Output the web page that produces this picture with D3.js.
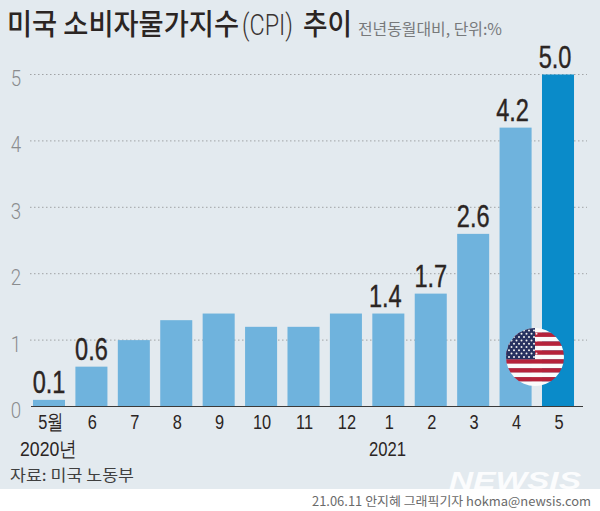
<!DOCTYPE html>
<html>
<head>
<meta charset="utf-8">
<script src="https://cdn.jsdelivr.net/npm/d3@7/dist/d3.min.js"></script>
<style>
  html, body { margin: 0; padding: 0; background: #fff; }
  svg { display: block; }
  .kr { font-family: "Noto Sans CJK KR", sans-serif; }
  .num { font-family: "Liberation Sans", sans-serif; }
  .thin { font-family: Roboto, "Liberation Sans", sans-serif; font-weight: 300; }
</style>
</head>
<body>
<div id="chart"></div>
<script>
var months = ["5월", "6", "7", "8", "9", "10", "11", "12", "1", "2", "3", "4", "5"];
var values = [0.1, 0.6, 1.0, 1.3, 1.4, 1.2, 1.2, 1.4, 1.4, 1.7, 2.6, 4.2, 5.0];
// only these months carry a number on top of the bar
var labelled = [0, 1, 8, 9, 10, 11, 12];
// these numbers sit a little left of their bar in the original
var nudged = [8, 11, 12];
var yTicks = [0, 1, 2, 3, 4, 5];
var stripes = d3.range(13);
var starRows = d3.range(9);

var width = 600, height = 511;

var svg = d3.select("#chart").append("svg")
    .attr("width", width)
    .attr("height", height);

// panel, the white strip at the bottom stays for the credit line
svg.append("rect")
    .attr("width", width)
    .attr("height", 489)
    .attr("fill", "#e3eaef");

var x = d3.scaleBand()
    .domain(d3.range(months.length))
    .range([24.5, 582.5])
    .paddingInner(0.245)
    .paddingOuter(0.2);

var y = d3.scaleLinear()
    .domain([0, 5])
    .range([406.5, 74.5]);

// dotted gridlines
svg.selectAll(".grid")
    .data(yTicks.slice(1))
    .enter().append("line")
    .attr("class", "grid")
    .attr("x1", 30)
    .attr("x2", 587)
    .attr("y1", function (d) { return y(d); })
    .attr("y2", function (d) { return y(d); })
    .attr("stroke", "#a0a3a5")
    .attr("stroke-width", 1)
    .attr("stroke-dasharray", "1.5 2.5");

svg.selectAll(".ytick")
    .data(yTicks)
    .enter().append("text")
    .attr("class", "ytick thin")
    .attr("transform", function (d) { return "translate(16," + (y(d) + 11.5) + ") scale(0.85,1)"; })
    .attr("text-anchor", "middle")
    .attr("font-size", 22)
    .attr("fill", "#8a8c8e")
    .text(function (d) { return d; });

svg.selectAll(".bar")
    .data(values)
    .enter().append("rect")
    .attr("class", "bar")
    .attr("x", function (d, i) { return x(i); })
    .attr("y", function (d) { return y(d); })
    .attr("width", x.bandwidth())
    .attr("height", function (d) { return y(0) - y(d); })
    .attr("fill", function (d, i) { return i == months.length - 1 ? "#0a8bc9" : "#6fb3dd"; });

// baseline
svg.append("line")
    .attr("x1", 31)
    .attr("x2", 583)
    .attr("y1", y(0))
    .attr("y2", y(0))
    .attr("stroke", "#3a3a3a")
    .attr("stroke-width", 1);

// numbers on the bars, squeezed because no condensed face is installed
svg.selectAll(".val")
    .data(labelled)
    .enter().append("text")
    .attr("class", "val num")
    .attr("transform", function (d) {
        var shift = nudged.indexOf(d) >= 0 ? -3 : 0;
        return "translate(" + (x(d) + x.bandwidth() / 2 + shift) + "," + (y(values[d]) - 6.5) + ") scale(0.76,1)";
    })
    .attr("text-anchor", "middle")
    .attr("font-size", 31)
    .attr("fill", "#2b2523")
    .attr("stroke", "#2b2523")
    .attr("stroke-width", 0.4)
    .text(function (d) { return values[d].toFixed(1); });

// month labels
svg.selectAll(".month")
    .data(months)
    .enter().append("text")
    .attr("class", "month num")
    .attr("transform", function (d, i) {
        return "translate(" + (x(i) + x.bandwidth() / 2 + (i == 0 ? 2 : 1)) + ",429) scale(0.78,1)";
    })
    .attr("text-anchor", "middle")
    .attr("font-size", 21)
    .attr("fill", "#2b2523")
    .text(function (d) { return d; });

// fixed text, fitted to the widths in the reference
function label(str, xpos, ypos, size, color, len, cls, weight) {
    var t = svg.append("text")
        .attr("class", cls)
        .attr("x", xpos)
        .attr("y", ypos)
        .attr("font-size", size)
        .attr("fill", color)
        .text(str);
    if (len) t.attr("textLength", len).attr("lengthAdjust", "spacingAndGlyphs");
    if (weight) t.attr("font-weight", weight);
    return t;
}

label("미국 소비자물가지수", 7, 35, 29, "#2b2523", 232, "kr", 500);
label("(CPI)", 242, 35, 29, "#3a3533", 51, "thin");
label("추이", 303, 35, 29, "#2b2523", 49, "kr", 500);
label("전년동월대비, 단위:%", 358, 35, 15.5, "#77797b", 144, "kr", 400);
label("2020년", 20, 455.5, 21, "#2b2523", 57, "num");
label("2021", 369, 455.5, 21, "#2b2523", 37, "num");
label("자료: 미국 노동부", 10, 481, 15.5, "#3f3f3f", 124, "kr", 400);

// watermark
label("NEWSIS", 449, 489, 24, "#fbfcfd", 132, "num", 700)
    .attr("font-style", "italic");

label("21.06.11 안지혜 그래픽기자 hokma@newsis.com", 312, 506, 12.5, "#6a6a6a", 279, "kr", 400);

// flag badge
var fx = 535, fy = 357, fr = 29;

svg.append("clipPath")
    .attr("id", "flagClip")
    .append("circle")
    .attr("cx", fx)
    .attr("cy", fy)
    .attr("r", fr);

var flag = svg.append("g").attr("clip-path", "url(#flagClip)");

var stripeY = d3.scaleBand()
    .domain(stripes)
    .range([fy - fr, fy + fr]);

flag.selectAll(".stripe")
    .data(stripes)
    .enter().append("rect")
    .attr("class", "stripe")
    .attr("x", fx - fr)
    .attr("y", function (d) { return stripeY(d); })
    .attr("width", fr * 2)
    .attr("height", stripeY.bandwidth() + 0.2)
    .attr("fill", function (d) { return d % 2 == 1 ? "#b5223a" : "#fbfbfb"; });

flag.append("rect")
    .attr("x", fx - fr)
    .attr("y", fy - fr)
    .attr("width", 29)
    .attr("height", stripeY.bandwidth() * 7)
    .attr("fill", "#27315f");

flag.selectAll(".star")
    .data(d3.cross(starRows, d3.range(6)))
    .enter().append("circle")
    .attr("class", "star")
    .attr("cx", function (d) { return fx - fr + 3 + d[1] * 5 + (d[0] % 2) * 2.5; })
    .attr("cy", function (d) { return fy - fr + 2.5 + d[0] * 3.3; })
    .attr("r", 1)
    .attr("fill", "#f2f2f2");
</script>
</body>
</html>
